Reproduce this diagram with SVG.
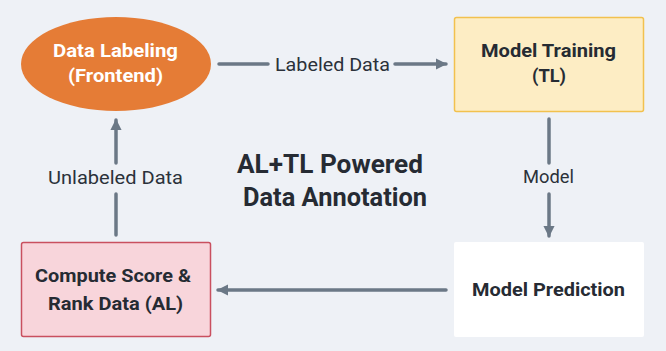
<svg xmlns="http://www.w3.org/2000/svg" width="666" height="351" viewBox="0 0 666 351">
  <defs>
    <marker id="arrow" viewBox="0 0 10 10" refX="9" refY="5" markerWidth="3.2" markerHeight="3.2" orient="auto" markerUnits="strokeWidth">
      <path d="M0,0 L10,5 L0,10 Z" fill="#6b7886"/>
    </marker>
    <style>
      .edge { stroke: #6b7886; stroke-width: 3.5; fill: none; stroke-linecap: round; }
      .lbl { font-family: Roboto, "Liberation Sans", sans-serif; font-size: 18px; fill: #2b313a; text-anchor: middle; }
      .node-text { font-family: Roboto, "Liberation Sans", sans-serif; font-size: 18.5px; font-weight: 700; fill: #262b33; text-anchor: middle; }
      .title { font-family: Roboto, "Liberation Sans", sans-serif; font-size: 25px; font-weight: 700; fill: #262b33; text-anchor: middle; }
    </style>
  </defs>

  <rect width="666" height="351" fill="#eef1f6"/>

  <!-- connectors -->
  <g id="connectors">
    <line class="edge" x1="219" y1="64" x2="268" y2="64"/>
    <line class="edge" x1="395" y1="64" x2="446" y2="64" marker-end="url(#arrow)"/>
    <text class="lbl" x="332.5" y="71" textLength="115" lengthAdjust="spacingAndGlyphs">Labeled Data</text>

    <line class="edge" x1="549" y1="119" x2="549" y2="163"/>
    <line class="edge" x1="549" y1="194" x2="549" y2="236" marker-end="url(#arrow)"/>
    <text class="lbl" x="548.5" y="183" textLength="51" lengthAdjust="spacingAndGlyphs">Model</text>

    <line class="edge" x1="446" y1="290" x2="218" y2="290" marker-end="url(#arrow)"/>

    <line class="edge" x1="116" y1="235" x2="116" y2="194"/>
    <line class="edge" x1="116" y1="163" x2="116" y2="120" marker-end="url(#arrow)"/>
    <text class="lbl" x="115.5" y="184" textLength="135" lengthAdjust="spacingAndGlyphs">Unlabeled Data</text>
  </g>

  <g id="data-labeling">
    <ellipse cx="116" cy="64" rx="95" ry="47" fill="#e57c36"/>
    <text class="node-text" x="115.5" y="57" style="fill:#ffffff" textLength="125" lengthAdjust="spacingAndGlyphs">Data Labeling</text>
    <text class="node-text" x="115.5" y="82" style="fill:#ffffff" textLength="95" lengthAdjust="spacingAndGlyphs">(Frontend)</text>
  </g>

  <g id="model-training">
    <rect x="454.5" y="17.5" width="189" height="94" rx="2" fill="#fdedc4" stroke="#f2c14e" stroke-width="1.5"/>
    <text class="node-text" x="548.5" y="57" textLength="135" lengthAdjust="spacingAndGlyphs">Model Training</text>
    <text class="node-text" x="549" y="82" textLength="34" lengthAdjust="spacingAndGlyphs">(TL)</text>
  </g>

  <g id="model-prediction">
    <rect x="454" y="242" width="190" height="95" rx="2" fill="#ffffff"/>
    <text class="node-text" x="548.5" y="296" textLength="153" lengthAdjust="spacingAndGlyphs">Model Prediction</text>
  </g>

  <g id="compute-score">
    <rect x="21.5" y="242.5" width="189" height="94" rx="2" fill="#f8d5db" stroke="#c9505f" stroke-width="1.5"/>
    <text class="node-text" x="113" y="282" textLength="156" lengthAdjust="spacingAndGlyphs">Compute Score &amp;</text>
    <text class="node-text" x="115.5" y="310" textLength="135" lengthAdjust="spacingAndGlyphs">Rank Data (AL)</text>
  </g>

  <g id="title">
    <text class="title" x="330" y="173" textLength="186" lengthAdjust="spacingAndGlyphs">AL+TL Powered</text>
    <text class="title" x="335" y="206" textLength="184" lengthAdjust="spacingAndGlyphs">Data Annotation</text>
  </g>
</svg>
